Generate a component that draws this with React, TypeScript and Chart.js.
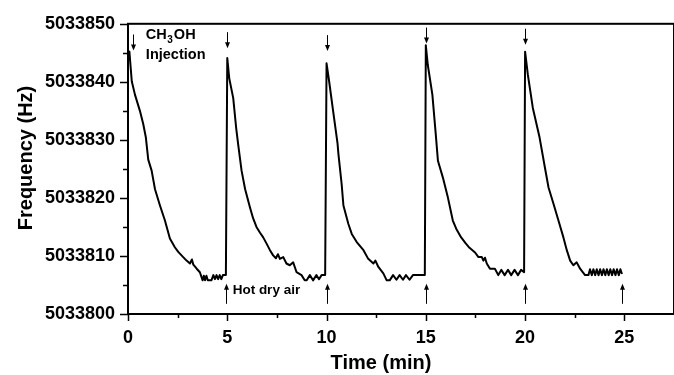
import React, { useEffect, useRef } from "react";
import { Chart, registerables } from "chart.js";
Chart.register(...registerables);

// ---- data ----
const cycle1Time = [0.02, 0.07, 0.19, 0.35, 0.6, 0.77, 0.9, 1.02, 1.19, 1.36, 1.61, 1.86, 2.11, 2.36, 2.53, 2.78, 2.95, 3.12, 3.22, 3.29, 3.46, 3.62, 3.76, 3.82, 3.88, 3.95, 4.02, 4.2, 4.3, 4.38, 4.46, 4.54, 4.62, 4.7, 4.78, 4.86, 4.93];
const cycle1Freq = [5033844.8, 5033845.2, 5033840.1, 5033837.8, 5033835.0, 5033832.7, 5033830.4, 5033826.6, 5033824.7, 5033821.5, 5033818.7, 5033816.1, 5033813.0, 5033811.5, 5033810.7, 5033809.8, 5033809.2, 5033808.7, 5033809.4, 5033808.5, 5033807.8, 5033807.2, 5033805.8, 5033806.6, 5033805.8, 5033806.6, 5033805.8, 5033805.8, 5033806.7, 5033806.0, 5033806.7, 5033806.0, 5033806.7, 5033806.0, 5033806.7, 5033806.7, 5033806.7];

const cycle2Time = [5.0, 5.1, 5.3, 5.45, 5.55, 5.72, 5.9, 6.14, 6.3, 6.47, 6.65, 6.81, 7.0, 7.15, 7.31, 7.45, 7.55, 7.65, 7.82, 7.98, 8.15, 8.32, 8.49, 8.74, 8.9, 9.0, 9.16, 9.32, 9.49, 9.62, 9.75, 9.93];
const cycle2Freq = [5033844.1, 5033840.6, 5033837.2, 5033832.0, 5033829.2, 5033824.7, 5033821.5, 5033818.4, 5033816.5, 5033815.0, 5033814.0, 5033813.2, 5033812.0, 5033811.0, 5033810.1, 5033809.6, 5033810.3, 5033809.5, 5033809.8, 5033808.7, 5033808.4, 5033808.9, 5033807.2, 5033806.7, 5033805.8, 5033805.8, 5033806.7, 5033805.8, 5033806.7, 5033806.0, 5033806.7, 5033806.7];

const cycle3Time = [10.0, 10.13, 10.33, 10.55, 10.6, 10.76, 10.85, 11.1, 11.27, 11.52, 11.86, 12.1, 12.36, 12.46, 12.61, 12.86, 13.03, 13.18, 13.35, 13.52, 13.68, 13.85, 14.0, 14.18, 14.35, 14.5, 14.95];
const cycle3Freq = [5033843.2, 5033840.1, 5033835.0, 5033829.5, 5033827.5, 5033822.4, 5033818.7, 5033815.5, 5033813.8, 5033812.4, 5033811.0, 5033809.5, 5033808.7, 5033809.2, 5033808.1, 5033807.0, 5033805.8, 5033805.8, 5033806.7, 5033805.9, 5033806.7, 5033805.9, 5033806.7, 5033805.9, 5033806.7, 5033806.7, 5033806.7];

const cycle4Time = [15.0, 15.1, 15.33, 15.5, 15.61, 15.86, 16.11, 16.36, 16.53, 16.78, 17.0, 17.2, 17.48, 17.65, 17.82, 17.9, 17.98, 18.07, 18.23, 18.48, 18.65, 18.8, 18.97, 19.14, 19.3, 19.47, 19.64, 19.8, 19.95];
const cycle4Freq = [5033846.3, 5033842.9, 5033837.8, 5033831.0, 5033826.4, 5033823.5, 5033820.1, 5033816.1, 5033814.7, 5033813.2, 5033812.2, 5033811.4, 5033810.6, 5033809.8, 5033809.8, 5033809.2, 5033809.7, 5033808.7, 5033807.8, 5033807.8, 5033806.7, 5033807.6, 5033806.7, 5033807.6, 5033806.7, 5033807.6, 5033806.7, 5033807.6, 5033807.2];

const cycle5Time = [20.0, 20.14, 20.39, 20.73, 21.0, 21.18, 21.43, 21.68, 21.93, 22.1, 22.27, 22.43, 22.6, 22.77, 23.02, 23.19, 23.27, 23.36, 23.44, 23.53, 23.61, 23.7, 23.78, 23.87, 23.95, 24.04, 24.12, 24.21, 24.29, 24.38, 24.46, 24.55, 24.63, 24.72, 24.8, 24.88];
const cycle5Freq = [5033845.2, 5033841.2, 5033835.5, 5033830.4, 5033825.2, 5033821.8, 5033819.0, 5033816.1, 5033813.2, 5033811.0, 5033809.2, 5033808.4, 5033808.9, 5033807.8, 5033806.7, 5033806.7, 5033807.7, 5033806.7, 5033807.7, 5033806.7, 5033807.7, 5033806.7, 5033807.7, 5033806.7, 5033807.7, 5033806.7, 5033807.7, 5033806.7, 5033807.7, 5033806.7, 5033807.7, 5033806.7, 5033807.7, 5033806.7, 5033807.7, 5033806.9];

const xMajorTicks = [0, 5, 10, 15, 20, 25];
const xMinorTicks = [2.5, 7.5, 12.5, 17.5, 22.5];
const yMajorTicks = [5033800, 5033810, 5033820, 5033830, 5033840, 5033850];
const yMinorTicks = [5033805, 5033815, 5033825, 5033835, 5033845];

const injectionTimes = [0.24, 5.0, 10.0, 15.0, 20.0];
const injectionArrowTips = [5033845.4, 5033845.8, 5033845.3, 5033846.6, 5033846.4];
const airTimes = [4.93, 10.0, 15.0, 20.0, 24.9];
const airArrowTip = 5033805.2;

const X_MIN = 0;
const X_MAX = 27.5;
const Y_MIN = 5033800;
const Y_MAX = 5033850;

const FONT = "'Liberation Sans', Arial, sans-serif";

function pairs(t: number[], f: number[]) {
  return t.map((v, i) => ({ x: v, y: f[i] }));
}

const seriesData = [
  ...pairs(cycle1Time, cycle1Freq),
  ...pairs(cycle2Time, cycle2Freq),
  ...pairs(cycle3Time, cycle3Freq),
  ...pairs(cycle4Time, cycle4Freq),
  ...pairs(cycle5Time, cycle5Freq),
];

const decorPlugin = {
  id: "decor",
  afterDraw(chart: any) {
    const { ctx, chartArea: a } = chart;
    const xs = chart.scales.x;
    const ys = chart.scales.y;
    ctx.save();
    ctx.strokeStyle = "#000";
    ctx.fillStyle = "#000";
    // frame
    ctx.lineWidth = 2;
    ctx.strokeRect(a.left, a.top, a.right - a.left, a.bottom - a.top);
    // ticks
    ctx.lineWidth = 1.5;
    ctx.beginPath();
    xMajorTicks.forEach((v) => {
      const p = Math.round(xs.getPixelForValue(v)) + 0.5;
      ctx.moveTo(p, a.bottom);
      ctx.lineTo(p, a.bottom + 7);
    });
    xMinorTicks.forEach((v) => {
      const p = Math.round(xs.getPixelForValue(v)) + 0.5;
      ctx.moveTo(p, a.bottom);
      ctx.lineTo(p, a.bottom + 4);
    });
    yMajorTicks.forEach((v) => {
      const p = Math.round(ys.getPixelForValue(v)) + 0.5;
      ctx.moveTo(a.left - 8, p);
      ctx.lineTo(a.left, p);
    });
    yMinorTicks.forEach((v) => {
      const p = Math.round(ys.getPixelForValue(v)) + 0.5;
      ctx.moveTo(a.left - 5, p);
      ctx.lineTo(a.left, p);
    });
    ctx.stroke();

    // arrows
    ctx.lineWidth = 1;
    const arrow = (px: number, tipY: number, dir: number, len: number) => {
      const tailY = tipY - dir * len;
      ctx.beginPath();
      ctx.moveTo(px, tailY);
      ctx.lineTo(px, tipY - dir * 4);
      ctx.stroke();
      ctx.beginPath();
      ctx.moveTo(px, tipY);
      ctx.lineTo(px - 2.5, tipY - dir * 6);
      ctx.lineTo(px + 2.5, tipY - dir * 6);
      ctx.closePath();
      ctx.fill();
    };
    injectionTimes.forEach((t, i) => {
      const px = Math.round(xs.getPixelForValue(t)) + 0.5;
      arrow(px, ys.getPixelForValue(injectionArrowTips[i]), 1, 16);
    });
    airTimes.forEach((t) => {
      const px = Math.round(xs.getPixelForValue(t)) + 0.5;
      arrow(px, ys.getPixelForValue(airArrowTip), -1, 20);
    });

    // annotation texts
    ctx.textBaseline = "middle";
    ctx.textAlign = "left";
    ctx.font = `bold 14.5px ${FONT}`;
    const cx = xs.getPixelForValue(0.9);
    const cy = ys.getPixelForValue(5033848.1);
    ctx.fillText("CH", cx, cy);
    const w = ctx.measureText("CH").width;
    ctx.font = `bold 10px ${FONT}`;
    ctx.fillText("3", cx + w + 0.5, cy + 5);
    const w3 = ctx.measureText("3").width;
    ctx.font = `bold 14.5px ${FONT}`;
    ctx.fillText("OH", cx + w + w3 + 1.5, cy);
    ctx.fillText("Injection", cx, ys.getPixelForValue(5033844.7));
    ctx.font = `bold 13.5px ${FONT}`;
    ctx.fillText("Hot dry air", xs.getPixelForValue(5.27), ys.getPixelForValue(5033804.1));

    // axis titles
    ctx.font = `bold 20px ${FONT}`;
    ctx.textAlign = "center";
    ctx.textBaseline = "alphabetic";
    ctx.fillText("Time (min)", 381, 369);
    ctx.save();
    ctx.translate(32, 158);
    ctx.rotate(-Math.PI / 2);
    ctx.fillText("Frequency (Hz)", 0, 0);
    ctx.restore();

    ctx.restore();
  },
};

export default function App() {
  const ref = useRef<HTMLCanvasElement | null>(null);
  useEffect(() => {
    if (!ref.current) return;
    const chart = new Chart(ref.current, {
      type: "line",
      data: {
        datasets: [
          {
            data: seriesData,
            borderColor: "#000",
            borderWidth: 2,
            pointRadius: 0,
            tension: 0,
            fill: false,
            borderJoinStyle: "round",
          },
        ],
      },
      options: {
        animation: false,
        responsive: false,
        maintainAspectRatio: false,
        devicePixelRatio: 1,
        layout: { padding: { top: 22, right: 0, left: 0, bottom: 0 } },
        plugins: { legend: { display: false }, tooltip: { enabled: false } },
        scales: {
          x: {
            type: "linear",
            min: X_MIN,
            max: X_MAX,
            grid: { display: false, drawTicks: false },
            border: { display: false },
            afterBuildTicks: (s: any) => {
              s.ticks = xMajorTicks.map((v) => ({ value: v }));
            },
            afterFit: (s: any) => {
              s.height = 61;
            },
            ticks: {
              padding: 13,
              color: "#000",
              maxRotation: 0,
              autoSkip: false,
              font: { family: FONT, size: 18, weight: "bold" },
              callback: (v: any) => String(v),
            },
          },
          y: {
            type: "linear",
            min: Y_MIN,
            max: Y_MAX,
            grid: { display: false, drawTicks: false },
            border: { display: false },
            afterBuildTicks: (s: any) => {
              s.ticks = yMajorTicks.map((v) => ({ value: v }));
            },
            afterFit: (s: any) => {
              s.width = 128;
            },
            ticks: {
              padding: 13,
              color: "#000",
              autoSkip: false,
              font: { family: FONT, size: 18, weight: "bold" },
              callback: (v: any) => String(v),
            },
          },
        },
      },
      plugins: [decorPlugin],
    } as any);
    return () => chart.destroy();
  }, []);
  return (
    <div style={{ position: "absolute", left: 0, top: 0, width: 674, height: 375, background: "#fff" }}>
      <canvas ref={ref} width={674} height={375} style={{ width: 674, height: 375, display: "block" }} />
    </div>
  );
}
